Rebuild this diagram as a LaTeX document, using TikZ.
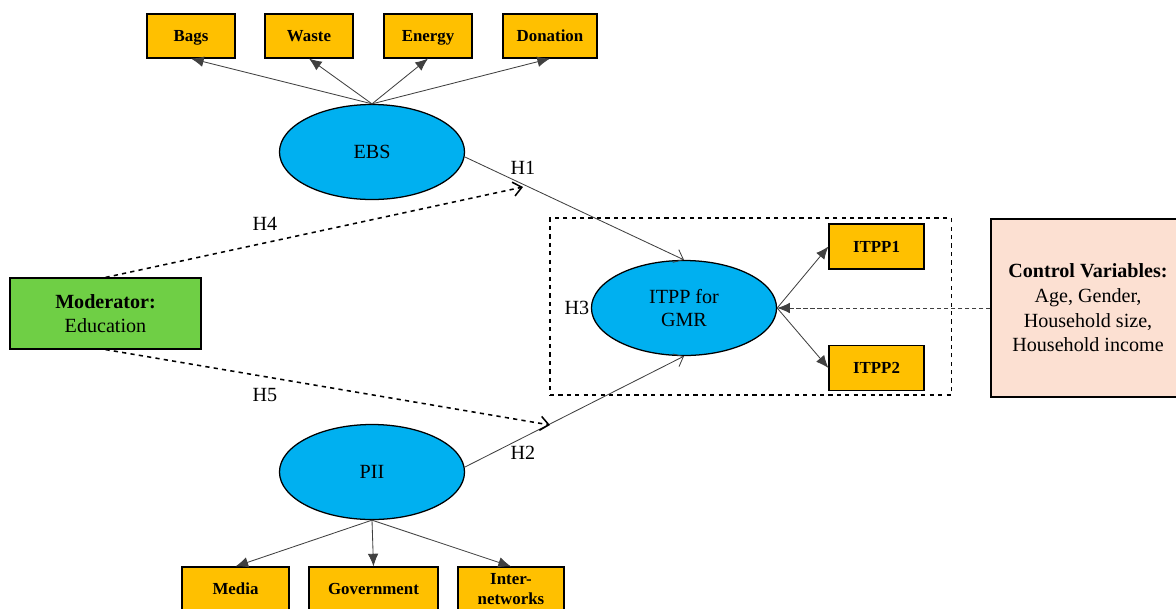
\documentclass[tikz,border=0pt]{standalone}
\usepackage{fontspec}
\setmainfont{Liberation Serif}
\usetikzlibrary{shapes.geometric, arrows.meta}
\definecolor{itemgold}{HTML}{FFC000}
\definecolor{latentblue}{HTML}{00B0F0}
\definecolor{modgreen}{HTML}{6FCF45}
\definecolor{ctrlpeach}{HTML}{FCE0D2}
\begin{document}
\begin{tikzpicture}[x=0.025cm, y=-0.025cm,
    item/.style={rectangle, draw, line width=0.8pt, fill=itemgold, minimum width=2.2cm, minimum height=1.1cm, text height=1.9ex, text depth=0.1ex, font=\fontsize{12}{14}\selectfont\bfseries},
    latent/.style={ellipse, draw, line width=0.9pt, fill=latentblue, minimum width=4.625cm, minimum height=2.375cm, inner sep=0pt, align=center, font=\fontsize{14.3}{17}\selectfont},
    link/.style={-{Latex[length=9pt,width=7.5pt]}, line width=0.6pt, black!75},
    hyplink/.style={-{Straight Barb[length=6pt,width=10pt]}, line width=0.6pt, black!75},
    modlink/.style={-{Straight Barb[length=6pt,width=10pt]}, dashed, line width=1.1pt},
    hlabel/.style={font=\fontsize{14.3}{17}\selectfont}]
        \useasboundingbox (0,0) rectangle (1176,608);

        % dashed frame round the outcome
        \node[draw, dashed, line width=0.8pt, minimum width=10.025cm, minimum height=4.425cm] (frame) at (750.5,306.5) {};

        % latent constructs
        \node[latent] (ebs) at (372,152) {EBS};
        \node[latent] (pii) at (372,472) {PII};
        \node[latent] (itpp) at (684,308) {ITPP for\\GMR};

        % indicators of EBS
        \node[item] (bags) at (191,36) {Bags};
        \node[item] (waste) at (309,36) {Waste};
        \node[item] (energy) at (428,36) {Energy};
        \node[item, minimum width=2.35cm] (donation) at (550,36) {Donation};

        % indicators of PII
        \node[item, minimum width=2.675cm] (media) at (235.5,589) {Media};
        \node[item, minimum width=3.225cm] (government) at (373.5,589) {Government};
        \node[item, minimum width=2.65cm, text height=, text depth=, align=center, font=\fontsize{12}{14.2}\selectfont\bfseries] (internet) at (511,589) {Inter-\\networks};

        % indicators of ITPP
        \node[item, minimum width=2.375cm, minimum height=1.125cm] (itppone) at (876.5,246.5) {ITPP1};
        \node[item, minimum width=2.375cm, minimum height=1.125cm] (itpptwo) at (876.5,368) {ITPP2};

        % moderator and controls
        \node[rectangle, draw, line width=0.8pt, fill=modgreen, minimum width=4.775cm, minimum height=1.775cm, align=center, font=\fontsize{14.3}{17.5}\selectfont] (moderator) at (105.5,313.5) {\textbf{Moderator:}\\Education};
        \node[rectangle, draw, line width=0.8pt, fill=ctrlpeach, minimum width=4.85cm, minimum height=4.45cm, align=center, font=\fontsize{14.3}{17.5}\selectfont] (control) at (1088,308) {\textbf{Control Variables:}\\Age, Gender,\\Household size,\\Household income};

        \foreach \ind in {bags, waste, energy, donation}
            \draw[link] (ebs.north) -- (\ind.south);
        \foreach \ind in {media, government, internet}
            \draw[link] (pii.south) -- (\ind.north);
        \draw[link] (itpp.east) -- (itppone.west);
        \draw[link] (itpp.east) -- (itpptwo.west);
        \draw[-{Latex[length=9pt,width=7.5pt]}, densely dashed, line width=0.6pt, black!75] (control.west) -- (itpp.east);

        % hypotheses
        \draw[hyplink] (ebs.-3) -- (itpp.north);
        \draw[hyplink] (pii.3) -- (itpp.south);
        \coordinate (hfourend) at (523,187);
        \coordinate (hfiveend) at (550,425);
        \draw[modlink] (moderator.north) -- (hfourend);
        \draw[modlink] (moderator.south) -- (hfiveend);

        \node[hlabel] (hone) at (523,168) {H1};
        \node[hlabel] (htwo) at (523,453) {H2};
        \node[hlabel] (hthree) at (577,308) {H3};
        \node[hlabel] (hfour) at (265,224) {H4};
        \node[hlabel] (hfive) at (265,395) {H5};
    \end{tikzpicture}
\end{document}
